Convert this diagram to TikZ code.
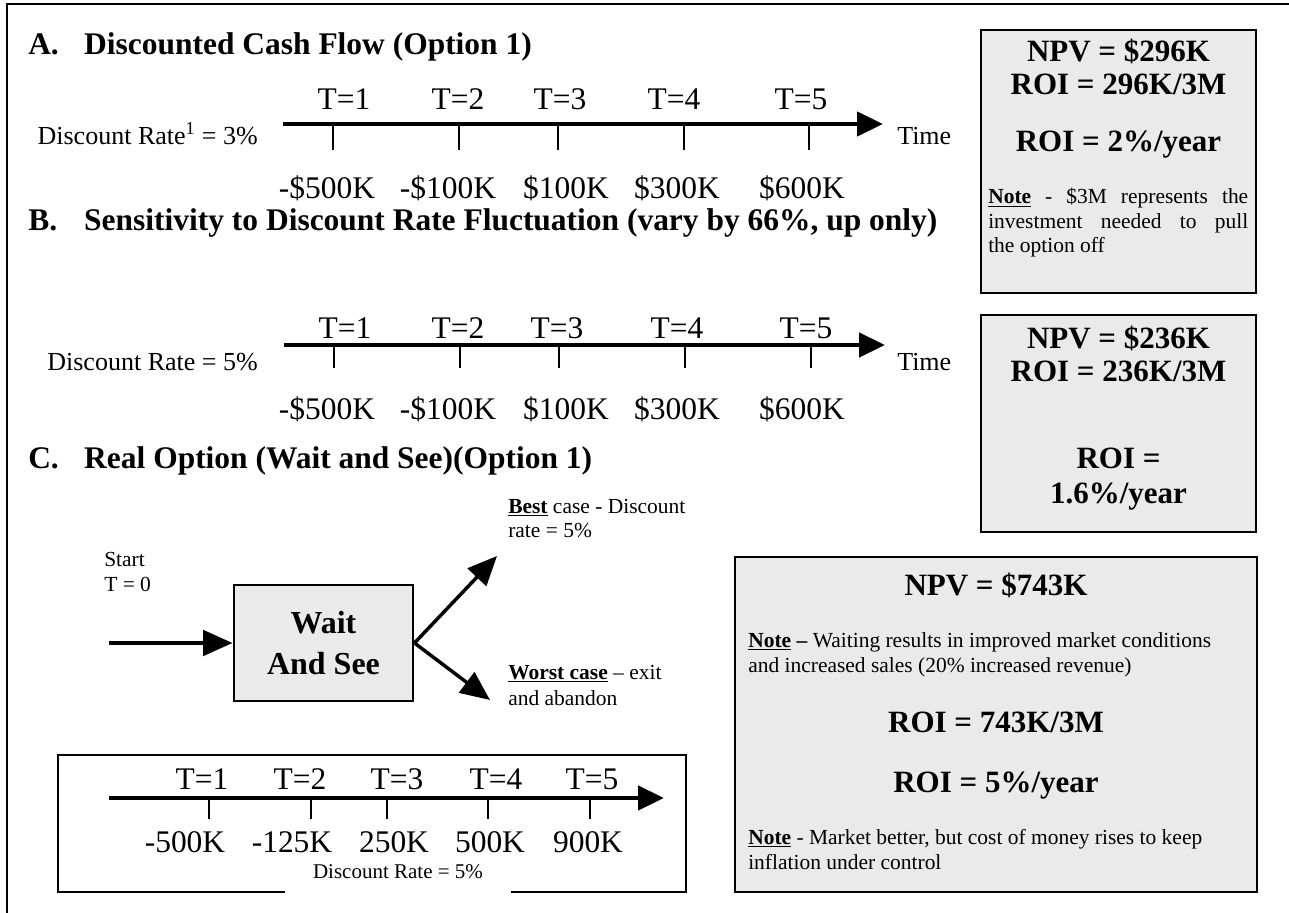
\documentclass[tikz,border=0pt]{standalone}
\usepackage{fontspec}
\setmainfont{Liberation Serif}
\usetikzlibrary{arrows.meta,fit}
\definecolor{panelgray}{HTML}{EAEAEA}
\newcommand\szBig{\fontsize{23.6pt}{27pt}\selectfont}
\newcommand\szBox{\fontsize{23.25pt}{26pt}\selectfont\bfseries}
\newcommand\szMid{\fontsize{19.5pt}{22pt}\selectfont}
\newcommand\szSmall{\fontsize{16.1pt}{18.4pt}\selectfont}
\newcommand\szWait{\fontsize{24pt}{31pt}\selectfont\bfseries}
\newcommand\szTiny{\fontsize{15.75pt}{18pt}\selectfont}
\begin{document}
\begin{tikzpicture}[x=0.75pt,y=-0.75pt,
  heading/.style={font=\szBig\bfseries, anchor=base west, inner sep=0pt},
  tlabel/.style={font=\szBig, anchor=base, inner sep=0pt},
  amount/.style={font=\szBig, anchor=base, inner sep=0pt},
  midlabel/.style={font=\szMid, inner sep=0pt},
  note/.style={font=\szSmall, inner sep=0pt, anchor=base west},
  boxtext/.style={font=\szBox, inner sep=0pt, anchor=base},
  axis/.style={line width=3.4pt, -{Triangle[length=19.5pt,width=18pt]}},
  tickmark/.style={line width=2.2pt},
  panel/.style={draw=black, line width=1.5pt, fill=panelgray, inner sep=0pt},
  plainbox/.style={draw=black, line width=1.5pt, inner sep=0pt},
  waitbox/.style={draw=black, line width=2.2pt, fill=panelgray, align=center, font=\szWait},
  branch/.style={line width=2.6pt, -{Triangle[length=22pt,width=19pt]}},
  frame/.style={line width=1.2pt}]
\useasboundingbox (0,0) rectangle (1289,913);

% page frame (top and left edges)
\draw[frame] (7,913) -- (7,4) -- (1289,4);

% ---------- A. Discounted cash flow ----------
\node[heading] (hA) at (28,55) {\makebox[42pt][l]{A.}Discounted Cash Flow (Option 1)};
\node[midlabel, anchor=base east] (drA) at (258,145) {Discount Rate\textsuperscript{1} = 3\%};
\coordinate (axA0) at (283,124);
\coordinate (axA1) at (883,124);
\draw[axis] (axA0) -- (axA1);
\node[midlabel, anchor=base west] (timeA) at (897,145) {Time};
\foreach \x in {333,459,558,684,809} \draw[tickmark] (\x,124) -- (\x,150);
\foreach \t/\x in {1/344,2/458,3/560,4/674,5/801} \node[tlabel] (tA\t) at (\x,110) {T=\t};
\foreach \v/\x [count=\i] in {-\$500K/327,-\$100K/448,\$100K/566,\$300K/677,\$600K/802}
  \node[amount] (vA\i) at (\x,199) {\v};

% ---------- B. Sensitivity ----------
\node[heading] (hB) at (28,230) {\makebox[42pt][l]{B.}Sensitivity to Discount Rate Fluctuation (vary by 66\%, up only)};
\node[midlabel, anchor=base east] (drB) at (258,370) {Discount Rate = 5\%};
\coordinate (axB0) at (284,345);
\coordinate (axB1) at (885,345);
\draw[axis] (axB0) -- (axB1);
\node[midlabel, anchor=base west] (timeB) at (897,370) {Time};
\foreach \x in {334,460,559,685,811} \draw[tickmark] (\x,345) -- (\x,368);
\foreach \t/\x in {1/345,2/458,3/557,4/677,5/806} \node[tlabel] (tB\t) at (\x,338) {T=\t};
\foreach \v/\x [count=\i] in {-\$500K/327,-\$100K/448,\$100K/566,\$300K/677,\$600K/802}
  \node[amount] (vB\i) at (\x,419) {\v};

% ---------- result panels ----------
\node[panel, fit={(981,30)(1256,293)}] (box1) {};
\node[boxtext] (n1) at (1118.5,62) {NPV = \$296K};
\node[boxtext] (r1) at (1118.5,95) {ROI = 296K/3M};
\node[boxtext] (y1) at (1118.5,152) {ROI = 2\%/year};
\node[font=\szSmall, inner sep=0pt, anchor=north west, text width=195pt, align=justify] (note1) at (988,188)
  {\textbf{\underline{Note}} - \$3M represents the\linebreak investment needed to pull\linebreak the option off};

\node[panel, fit={(981,315)(1256,532)}] (box2) {};
\node[boxtext] (n2) at (1118.5,348) {NPV = \$236K};
\node[boxtext] (r2) at (1118.5,381) {ROI = 236K/3M};
\node[boxtext] (y2a) at (1118.5,468) {ROI =};
\node[boxtext] (y2b) at (1118.5,503) {1.6\%/year};

\node[panel, fit={(735,557)(1257,892)}] (box3) {};
\node[boxtext] (n3) at (996,595) {NPV = \$743K};
\node[note] (m3a) at (748,647) {\textbf{\underline{Note} --} Waiting results in improved market conditions};
\node[note] (m3b) at (748,672) {and increased sales (20\% increased revenue)};
\node[boxtext] (r3) at (996,732) {ROI = 743K/3M};
\node[boxtext] (y3) at (996,792) {ROI = 5\%/year};
\node[note] (m3c) at (748,844) {\textbf{\underline{Note}} - Market better, but cost of money rises to keep};
\node[note] (m3d) at (748,869) {inflation under control};

% ---------- C. Real option ----------
\node[heading] (hC) at (28,468) {\makebox[42pt][l]{C.}Real Option (Wait and See)(Option 1)};
\node[note] (st1) at (104,566) {Start};
\node[note] (st2) at (104,591) {T = 0};
\node[waitbox, minimum width=134.25pt, minimum height=87pt] (wait) at (323.5,643) {Wait\\And See};
\coordinate (startpt) at (109,643);
\draw[branch] (startpt) -- (wait.west);
\coordinate (bestpt) at (497,556);
\coordinate (worstpt) at (490,700);
\draw[branch] (wait.east) -- (bestpt);
\draw[branch] (wait.east) -- (worstpt);
\node[note] (bc1) at (508,513) {\textbf{\underline{Best}} case - Discount};
\node[note] (bc2) at (508,537) {rate = 5\%};
\node[note] (wc1) at (508,679) {\textbf{\underline{Worst case}} -- exit};
\node[note] (wc2) at (508,705) {and abandon};

% cash flows after waiting
\node[plainbox, fit={(58,755)(686,892)}] (cfbox) {};
\coordinate (axC0) at (109,798);
\coordinate (axC1) at (664,798);
\draw[axis] (axC0) -- (axC1);
\foreach \x in {209,311,387,488,590} \draw[tickmark] (\x,798) -- (\x,819);
\foreach \t/\x in {1/202,2/300,3/397,4/496,5/592} \node[tlabel] (tC\t) at (\x,789) {T=\t};
\foreach \v/\x [count=\i] in {-500K/185,-125K/292,250K/394,500K/490,900K/588}
  \node[amount] (vC\i) at (\x,852) {\v};
\node[font=\szTiny, fill=white, inner sep=0pt, anchor=base, minimum width=169.5pt,
      text height=9pt, text depth=14pt] (drC) at (398,878) {Discount Rate = 5\%};
\end{tikzpicture}
\end{document}
